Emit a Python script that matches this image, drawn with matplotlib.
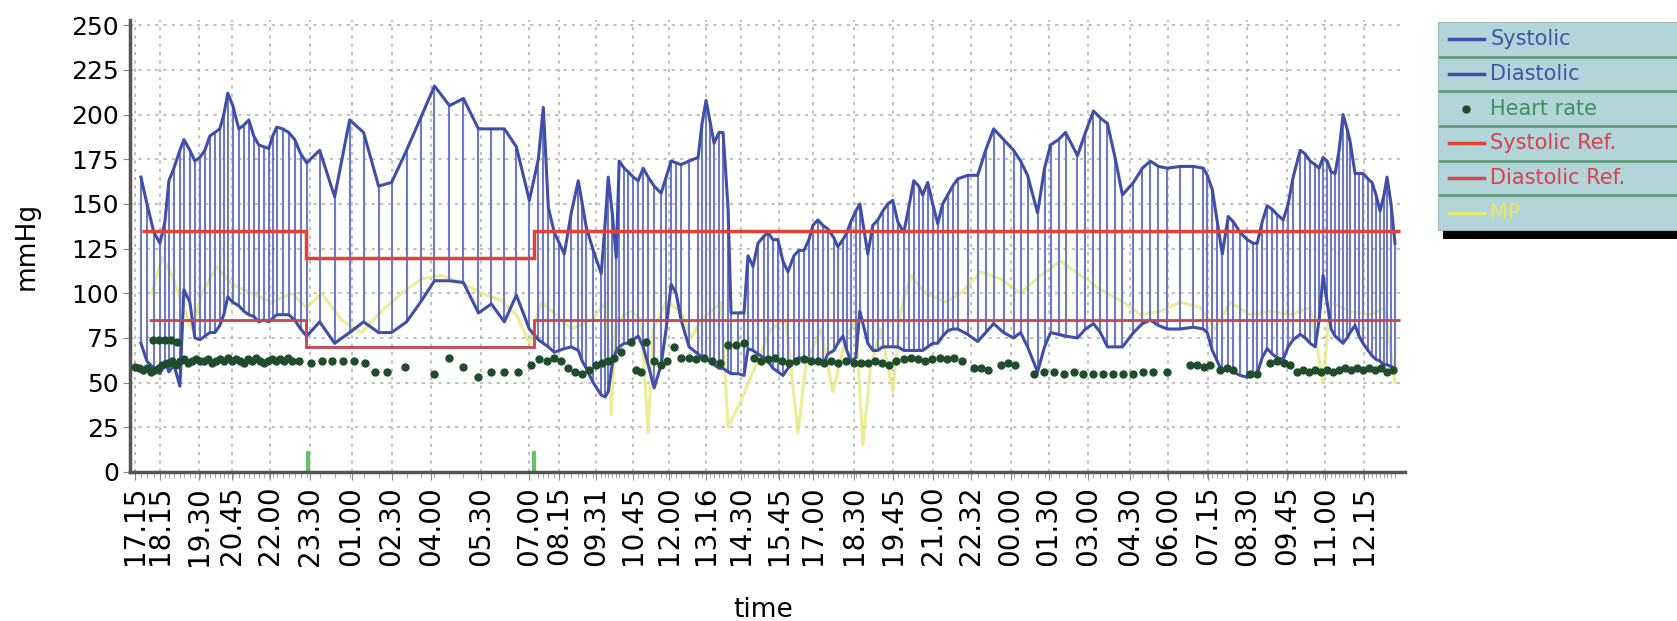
import matplotlib.pyplot as plt
from matplotlib.patches import Rectangle

plt.rcParams['font.family'] = ['DejaVu Sans']

# time position along the recording (arbitrary linear units) and the tick labels
tick_pos = [0, 25, 64, 97, 135, 175, 217, 257, 297, 347, 395, 425, 462, 499, 535, 572, 607,
            645, 679, 720, 759, 799, 837, 877, 915, 955, 997, 1035, 1075, 1114, 1154, 1192, 1231]
tick_labels = ['17.15', '18.15', '19.30', '20.45', '22.00', '23.30', '01.00', '02.30', '04.00',
               '05.30', '07.00', '08.15', '09.31', '10.45', '12.00', '13.16', '14.30', '15.45',
               '17.00', '18.30', '19.45', '21.00', '22.32', '00.00', '01.30', '03.00', '04.30',
               '06.00', '07.15', '08.30', '09.45', '11.00', '12.15']

# blood pressure measurements
t_meas = [6, 12, 19, 25, 30, 34, 39, 45, 49, 55, 60, 65, 70, 75, 80, 85, 89, 93, 98, 104, 109, 114,
          119, 124, 129, 134, 138, 142, 148, 154, 160, 166, 172, 185, 200, 215, 229, 244, 257, 272,
          286, 300, 315, 329, 344, 357, 370, 382, 395, 404, 409, 414, 420, 425, 430, 437, 444, 448,
          452, 459, 467, 471, 474, 478, 482, 485, 490, 494, 499, 504, 509, 514, 520, 527, 532, 537,
          542, 547, 555, 564, 568, 572, 576, 580, 585, 589, 594, 597, 604, 610, 614, 619, 624, 630,
          634, 639, 644, 649, 654, 660, 665, 670, 675, 679, 684, 689, 694, 700, 704, 709, 713, 717,
          722, 726, 734, 739, 744, 749, 754, 759, 764, 770, 775, 780, 785, 789, 794, 799, 804, 809,
          814, 819, 824, 834, 844, 852, 860, 870, 880, 887, 894, 904, 911, 917, 925, 932, 944, 952,
          960, 967, 974, 982, 989, 1000, 1009, 1017, 1025, 1034, 1047, 1060, 1070, 1074, 1079, 1084,
          1089, 1095, 1100, 1107, 1114, 1120, 1124, 1129, 1134, 1139, 1144, 1150, 1155, 1160, 1167,
          1172, 1177, 1182, 1186, 1190, 1194, 1198, 1202, 1206, 1210, 1214, 1217, 1222, 1226, 1230,
          1235, 1239, 1243, 1247, 1251, 1254, 1258, 1262]
systolic = [165, 150, 134, 128, 140, 163, 170, 180, 186, 180, 174, 176, 180, 188, 190, 192, 200, 212,
            205, 192, 194, 197, 188, 183, 182, 181, 188, 193, 192, 190, 186, 178, 173, 180, 154, 197,
            190, 160, 162, 180, 198, 216, 205, 209, 192, 192, 192, 182, 152, 175, 204, 148, 134, 128,
            122, 145, 163, 150, 137, 124, 111, 140, 165, 145, 120, 174, 170, 168, 165, 163, 170, 165,
            160, 156, 165, 174, 173, 172, 174, 176, 195, 208, 196, 184, 190, 190, 148, 89, 89, 89,
            121, 115, 128, 132, 134, 130, 130, 118, 112, 121, 124, 124, 130, 138, 141, 138, 136, 131,
            126, 130, 134, 140, 146, 150, 122, 138, 141, 146, 150, 152, 140, 134, 148, 163, 160, 155,
            162, 150, 139, 150, 155, 160, 164, 166, 166, 180, 192, 186, 180, 174, 166, 145, 170, 183,
            186, 190, 177, 190, 202, 198, 195, 175, 155, 162, 170, 174, 171, 170, 171, 171, 170, 166,
            158, 140, 122, 143, 140, 134, 130, 128, 128, 140, 149, 147, 144, 141, 150, 165, 180, 178,
            174, 172, 170, 176, 174, 168, 167, 180, 200, 192, 185, 167, 167, 167, 164, 162, 155, 146,
            155, 165, 150, 128]
diastolic = [72, 62, 58, 55, 62, 56, 60, 48, 102, 95, 75, 74, 76, 78, 78, 82, 88, 98, 95, 93, 90, 88,
             87, 84, 85, 84, 86, 88, 88, 88, 85, 80, 76, 84, 72, 78, 84, 78, 78, 84, 95, 107, 107, 106,
             89, 94, 84, 99, 80, 74, 72, 70, 67, 68, 69, 70, 68, 62, 58, 50, 43, 42, 45, 60, 68, 70, 72,
             72, 74, 76, 70, 60, 47, 60, 80, 105, 100, 85, 70, 66, 64, 63, 62, 60, 58, 58, 56, 55, 55,
             54, 69, 68, 66, 64, 62, 58, 56, 54, 58, 62, 64, 63, 62, 62, 62, 60, 66, 68, 72, 76, 68, 62,
             64, 90, 72, 68, 68, 70, 70, 70, 70, 68, 68, 68, 68, 68, 70, 72, 72, 76, 79, 80, 80, 77, 73,
             78, 83, 78, 75, 78, 70, 56, 70, 78, 77, 76, 75, 80, 83, 78, 70, 70, 70, 78, 83, 85, 82, 80,
             80, 81, 80, 78, 68, 62, 56, 58, 56, 54, 53, 54, 55, 64, 69, 66, 64, 63, 70, 74, 77, 75, 72,
             70, 85, 110, 95, 80, 76, 74, 72, 75, 78, 82, 76, 72, 68, 65, 63, 62, 60, 60, 59, 58]

# heart rate
t_hr = [0, 4, 8, 12, 16, 20, 24, 27, 18, 24, 30, 36, 42,
        33, 37, 41, 45, 49, 53, 57, 61, 65, 69, 73, 77, 81, 85, 89, 93, 97, 101, 105, 109, 113, 117,
        121, 125, 129, 133, 137, 141, 145, 149, 153, 157,
        164, 176, 187, 197, 208, 219, 230, 240, 252, 270, 300, 315, 329, 344, 357, 370, 384, 397,
        405, 413, 420,
        427, 434, 441, 448, 455, 462, 468, 474, 480, 487, 497, 502, 507, 512, 520, 527, 533, 540,
        547, 555, 562, 570, 578, 586, 594, 602, 610, 620, 627, 634, 641, 648, 655, 662, 670, 677,
        684, 690, 697, 704, 712, 720, 727, 734, 741, 748, 755, 762, 770, 777, 784, 791, 798, 806,
        813, 820, 828, 840, 847, 854, 867, 874, 881, 900, 910, 920, 930, 940, 950, 960, 970, 980,
        990, 1000, 1010, 1020, 1034, 1057, 1064, 1071, 1077, 1087, 1094, 1100, 1117, 1124, 1137,
        1144, 1151, 1157, 1164, 1170, 1176, 1182, 1188, 1194, 1200, 1206, 1212, 1218, 1224, 1230,
        1236, 1242, 1248, 1254, 1260]
heart_rate = [59, 58, 57, 58, 56, 57, 58, 60, 74, 74, 74, 74, 73,
              61, 62, 60, 62, 63, 61, 62, 63, 62, 62, 63, 61, 62, 63, 62, 64, 62, 63, 62, 61, 63, 62,
              64, 62, 61, 62, 63, 62, 63, 62, 64, 62,
              62, 61, 62, 62, 62, 62, 61, 56, 56, 59, 55, 64, 59, 53, 56, 56, 56, 60,
              63, 62, 64,
              62, 58, 56, 55, 57, 60, 61, 62, 64, 67, 73, 57, 56, 73, 62, 60, 62, 70,
              64, 64, 63, 64, 62, 61, 71, 71, 72, 64, 62, 63, 64, 62, 61, 62, 63, 62,
              62, 61, 62, 61, 62, 61, 61, 61, 62, 61, 60, 62, 63, 64, 63, 62, 63, 64,
              63, 64, 62, 58, 58, 57, 60, 61, 60, 55, 56, 56, 55, 56, 55, 55, 55, 55,
              55, 55, 56, 56, 56, 60, 60, 59, 60, 57, 58, 57, 55, 55, 61,
              62, 61, 60, 56, 57, 56, 57, 56, 57, 56, 57, 58, 57, 58, 57,
              58, 57, 58, 56, 57]

# mean pressure
t_mp = [17, 27, 37, 47, 57, 67, 82, 97, 117, 137, 157, 172, 187, 207, 227, 247, 267, 287, 307, 327,
        347, 367, 382, 395, 407, 422, 437, 457, 472, 477, 482, 497, 507, 514, 519, 532, 547, 557, 567,
        587, 594, 607, 622, 637, 652, 664, 672, 687, 699, 712, 722, 729, 737, 747, 759, 767, 777, 792,
        812, 827, 847, 867, 887, 907, 927, 947, 967, 987, 1007, 1027, 1047, 1067, 1082, 1097, 1117,
        1137, 1157, 1177, 1190, 1197, 1217, 1237, 1252, 1262]
mean_pressure = [100, 120, 110, 95, 80, 100, 115, 105, 100, 95, 100, 92, 100, 85, 78, 90, 100, 108,
                 110, 106, 100, 96, 88, 72, 95, 88, 80, 85, 95, 32, 85, 90, 85, 22, 80, 95, 90, 75,
                 85, 95, 25, 40, 60, 80, 85, 22, 60, 80, 45, 75, 85, 15, 60, 80, 45, 90, 110, 100,
                 95, 100, 112, 108, 100, 110, 118, 110, 102, 96, 88, 90, 95, 92, 80, 95, 88, 90, 88,
                 92, 50, 95, 90, 88, 92, 50]

# day / night reference values
sys_ref = [135, 120, 135]
sys_ref_edges = [7, 171, 400, 1267]
dia_ref = [85, 70, 85]
dia_ref_edges = [14, 171, 400, 1267]
sleep_marks = [173, 400]

series_names = ['Systolic', 'Diastolic', 'Heart rate', 'Systolic Ref.', 'Diastolic Ref.', 'MP']

fig = plt.figure(figsize=(16.77, 6.21), dpi=100)
ax = fig.add_axes([0.0775, 0.240, 0.7603, 0.728])

blue = '#3f4ea6'
ax.plot(t_mp, mean_pressure, color='#e8e87a', lw=2.2, alpha=0.8, zorder=2)
ax.vlines(sleep_marks, 0, 12, color='#66c266', lw=3, zorder=2)
ax.vlines(t_meas, diastolic, systolic, color='#7079c6', lw=1.5, zorder=3)
ax.plot(t_meas, systolic, color=blue, lw=2.2, zorder=4)
ax.plot(t_meas, diastolic, color=blue, lw=2.2, zorder=4)
ax.stairs(sys_ref, sys_ref_edges, baseline=None, color='#e0423a', lw=2.5, zorder=5)
ax.stairs(dia_ref, dia_ref_edges, baseline=None, color='#c8444e', lw=2, zorder=5)
ax.plot(t_hr, heart_rate, 'o', color='#1f4d2b', ms=5, zorder=6)

ax.set_xlim(-5, 1272)
ax.set_ylim(0, 253)
ax.set_yticks(range(0, 251, 25))
ax.set_xticks(tick_pos)
ax.set_xticklabels(tick_labels, rotation=90)
ax.set_xticks(t_meas, minor=True)
ax.grid(True, which='major', color='#b5b5b5', ls=(0, (2, 3)), lw=1.2)
ax.set_axisbelow(True)

for s in ['top', 'right']:
    ax.spines[s].set_visible(False)
for s in ['left', 'bottom']:
    ax.spines[s].set_color('#555555')
    ax.spines[s].set_linewidth(2.5)
ax.tick_params(axis='y', labelsize=18, length=5, color='#888888', pad=3)
ax.tick_params(axis='x', which='major', labelsize=20, length=6, color='#888888', pad=4)
ax.tick_params(axis='x', which='minor', length=4, color='#999999')

ax.set_ylabel('mmHg', fontsize=19)
ax.yaxis.set_label_coords(-0.0706, 0.5)
ax.set_xlabel('time', fontsize=19)
ax.xaxis.set_label_coords(0.4965, -0.276)

# legend box drawn as its own panel
lx, ly, lw_, lh = 0.8575, 0.6296, 0.16, 0.335
fig.add_artist(Rectangle((lx + 0.003, ly - 0.014), lw_, lh, transform=fig.transFigure,
                         facecolor='black', edgecolor='none', zorder=0.5))
lax = fig.add_axes([lx, ly, lw_, lh], zorder=1)
lax.set_facecolor('#b2d5da')
lax.set_xlim(0, 1)
lax.set_ylim(6, 0)
lax.set_xticks([])
lax.set_yticks([])
for s in lax.spines.values():
    s.set_color('#a0b8bc')
lax.hlines([1, 2, 3, 4, 5], 0, 1, color='#5e9a78', lw=2)

handle_colors = [blue, blue, '#1f4d2b', '#e0423a', '#d2464e', '#e6e66a']
text_colors = ['#3c55a5', '#3c55a5', '#3d8f5c', '#d8404e', '#d8404e', '#e8e860']
for i, name in enumerate(series_names):
    yc = i + 0.5
    if name == 'Heart rate':
        lax.plot([0.105], [yc], 'o', color=handle_colors[i], ms=5)
    else:
        lax.plot([0.04, 0.17], [yc, yc], color=handle_colors[i], lw=2.5)
    lax.text(0.195, yc, name, color=text_colors[i], fontsize=15, va='center', ha='left')

fig.savefig('out.png', dpi=100)
